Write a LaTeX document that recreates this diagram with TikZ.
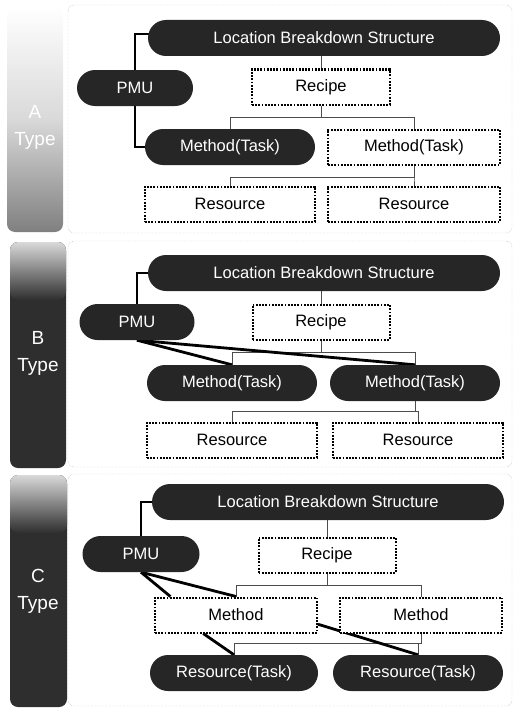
\documentclass[tikz,border=0pt]{standalone}
\usepackage{fontspec}
\setmainfont{Liberation Sans}
\usetikzlibrary{shapes.misc,calc,backgrounds}

\begin{document}
\begin{tikzpicture}[x=1pt,y=-1pt,
        font=\fontsize{16.5}{18}\selectfont,
        pill/.style={rounded rectangle, fill=black!85, text=white, minimum height=36pt, inner sep=0pt},
        dotbox/.style={rectangle, draw, fill=white, dash pattern=on 1.8pt off 1.4pt, line width=2pt, minimum height=35pt, inner sep=0pt},
        tree/.style={draw=black!70, line width=0.6pt},
        pmulink/.style={draw, line width=2.8pt},
        frame/.style={draw=black!35, densely dotted, rounded corners=6pt},
        typebox/.style={rounded corners=8pt},
        typelabel/.style={text=white, align=center, font=\fontsize{19}{27}\selectfont}]
    \useasboundingbox (0,0) rectangle (514,709);

    % A type
    \draw[frame] (68,5) rectangle (512,233);
    \shade[typebox, top color=white, bottom color=black!50, middle color=black!15] (7,7) rectangle (63,232);
    \node[typelabel] (typea) at (35,127) {A\\Type};
    \node[pill, minimum width=352pt] (lbsa) at (324,38) {Location Breakdown Structure};
    \node[pill, minimum width=116pt] (pmua) at (135,88) {PMU};
    \node[dotbox, minimum width=138pt] (recipea) at (321,87) {Recipe};
    \node[pill, minimum width=170pt] (methoda1) at (230,147) {Method(Task)};
    \node[dotbox, minimum width=172pt] (methoda2) at (414,147) {Method(Task)};
    \node[dotbox, minimum width=170pt] (resa1) at (230,204) {Resource};
    \node[dotbox, minimum width=172pt] (resa2) at (414,204) {Resource};

    % B type
    \draw[frame] (68,241) rectangle (512,467);
    \fill[typebox, black!82] (10,242) rectangle (66,468);
    \shade[typebox, top color=black!15, bottom color=black!82] (10,242) rectangle (66,300);
    \node[typelabel] (typeb) at (38,353) {B\\Type};
    \node[pill, minimum width=352pt] (lbsb) at (324,273) {Location Breakdown Structure};
    \node[pill, minimum width=115pt] (pmub) at (137,322) {PMU};
    \node[dotbox, minimum width=137pt] (recipeb) at (321,322) {Recipe};
    \node[pill, minimum width=170pt] (methodb1) at (232,383) {Method(Task)};
    \node[pill, minimum width=170pt] (methodb2) at (415,383) {Method(Task)};
    \node[dotbox, minimum width=170pt] (resb1) at (232,440) {Resource};
    \node[dotbox, minimum width=170pt] (resb2) at (418,440) {Resource};

    % C type
    \draw[frame] (68,474) rectangle (512,706);
    \fill[typebox, black!82] (10,475) rectangle (67,707);
    \shade[typebox, top color=black!15, bottom color=black!82] (10,475) rectangle (67,533);
    \node[typelabel] (typec) at (38,591) {C\\Type};
    \node[pill, minimum width=352pt] (lbsc) at (328,502) {Location Breakdown Structure};
    \node[pill, minimum width=117pt] (pmuc) at (141,554) {PMU};
    \node[dotbox, minimum width=137pt] (recipec) at (327,555) {Recipe};
    \node[dotbox, minimum width=162pt] (methodc1) at (236,615) {Method};
    \node[dotbox, minimum width=162pt] (methodc2) at (421,615) {Method};
    \node[pill, minimum width=168pt] (rtaskc1) at (234,673) {Resource(Task)};
    \node[pill, minimum width=170pt] (rtaskc2) at (418,673) {Resource(Task)};

    \begin{pgfonlayer}{background}
        % thin tree lines
        \draw[tree] (recipea.north) -- (recipea.north |- lbsa.south);
        \draw[tree] (recipea.south) -- ++(0,12) -| (methoda1.north);
        \draw[tree] (recipea.south) -- ++(0,12) -| (methoda2.north);
        \draw[tree] (methoda2.south) -- ++(0,12) -| (resa1.north);
        \draw[tree] (methoda2.south) -- ++(0,12) -| (resa2.north);

        \draw[tree] (recipeb.north) -- (recipeb.north |- lbsb.south);
        \draw[tree] (recipeb.south) -- ++(0,12) -| (methodb1.north);
        \draw[tree] (recipeb.south) -- ++(0,12) -| (methodb2.north);
        \draw[tree] (methodb2.south) -- ++(0,10) -| (resb1.north);
        \draw[tree] (methodb2.south) -- ++(0,10) -| (resb2.north);

        \draw[tree] (recipec.north) -- (recipec.north |- lbsc.south);
        \draw[tree] (recipec.south) -- ++(0,12) -| (methodc1.north);
        \draw[tree] (recipec.south) -- ++(0,12) -| (methodc2.north);
        \draw[tree] (methodc2.south) -- ++(0,10) -| (rtaskc1.north);
        \draw[tree] (methodc2.south) -- ++(0,10) -| (rtaskc2.north);

        % PMU links
        \draw[pmulink] ($(lbsa.west)+(4,-4)$) -| (pmua.center) |- (methoda1.west);

        \draw[pmulink] (pmub.north) |- (lbsb.west);
        \draw[pmulink] (pmub.south) -- (methodb1.north);
        \draw[pmulink] (pmub.south) -- (methodb2.north);

        \draw[pmulink] (pmuc.north) |- (lbsc.west);
        \draw[pmulink] (pmuc.south) -- ($(methodc1.north west)!0.1!(methodc1.north east)$);
        \draw[pmulink] (pmuc.south) -- (methodc1.north);
        \draw[pmulink] ($(methodc1.south west)!0.3!(methodc1.south east)$) -- (rtaskc1.north);
        \draw[pmulink] ($(methodc1.north east)!0.75!(methodc1.south east)$) -- (rtaskc2.north);
    \end{pgfonlayer}
\end{tikzpicture}
\end{document}
